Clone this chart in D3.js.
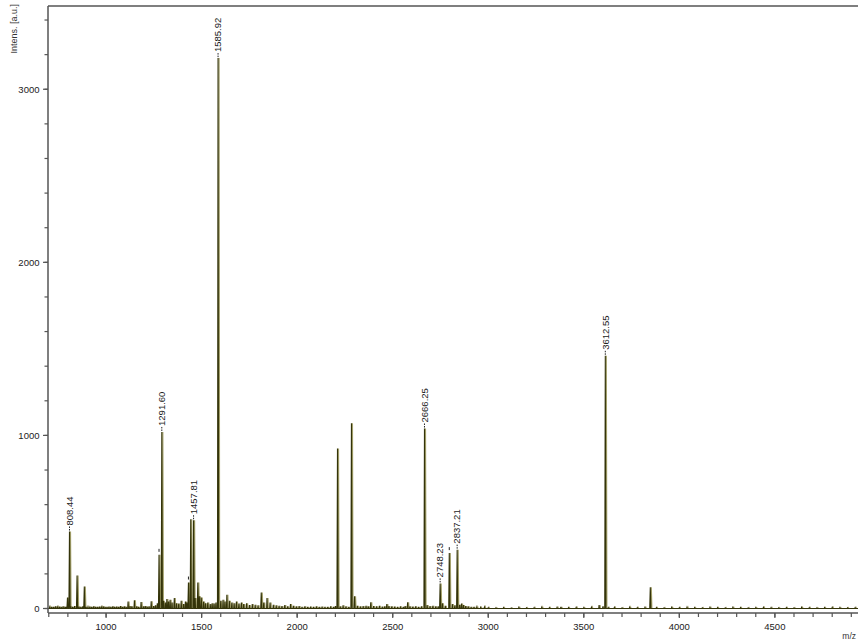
<!DOCTYPE html>
<html><head><meta charset="utf-8">
<script src="https://cdn.jsdelivr.net/npm/d3@7"></script>
<style>
html,body{margin:0;padding:0;background:#fff;}
svg{display:block;font-family:Arial,"Liberation Sans",sans-serif;}
</style></head>
<body>
<svg id="chart" width="858" height="641"></svg>
<script>
// ---- data ----
const peakMz  = [798, 808.44, 848, 886, 1277, 1291.60, 1431, 1443, 1457.81, 1480, 1498, 1585.92, 1812, 2211, 2284, 2300, 2666.25, 2748.23, 2796, 2837.21, 3612.55, 3848];
const peakInt = [64, 445, 190, 127, 310, 1020, 150, 515, 510, 150, 64, 3180, 92, 925, 1070, 70, 1040, 145, 320, 340, 1460, 123];

const noiseMz = [
  705,715,725,735,745,755,765,775,785,792,
  815,825,835,858,868,878,
  895,905,915,925,935,945,955,965,975,985,995,
  1005,1015,1025,1035,1045,1055,1065,1075,1085,1095,1105,1115,1125,1135,
  1148,1160,1170,1183,1195,1205,1215,1225,1236,1248,1258,1268,
  1300,1310,1318,1326,1335,1345,1357,1368,1380,1393,1405,1415,1422,
  1466,1488,1510,1520,1532,1545,1555,1565,1575,
  1600,1612,1622,1632,1645,1658,1670,1682,1695,1708,1720,1735,1750,1765,1780,1795,
  1825,1842,1858,1875,1890,1905,1920,1935,1950,1965,1980,1995,
  2010,2025,2040,2055,2070,2085,2100,2115,2130,2145,2160,2175,2190,
  2200,2225,2240,2255,2270,
  2315,2330,2345,2360,2372,2385,2400,2415,2430,2445,2458,2469,2480,2495,2510,2525,2540,2555,2565,2578,2590,2605,2620,2635,2650,
  2680,2695,2710,2725,2738,2760,2775,
  2812,2825,2850,2860,2870,2882,2895,2910,2925,2940,2960,2980,3000,
  3040,3080,3120,3160,3200,3240,3280,3320,3360,
  3380,3420,3460,3500,3540,3580,3600,3628,3660,3700,3740,3780,3820,
  3880,3920,3960,4000,4040,4080,4120,4160,4200,4240,4280,4320,4360,4400,4440,4480,4520,4560,4600,4640,4680,4720,4760,4800,4840,4880,4920];
const noiseInt = [
  8,10,9,12,8,11,9,13,10,9,
  12,10,14,11,9,12,
  10,8,11,9,12,10,9,11,8,12,10,
  9,11,10,12,9,11,10,14,10,12,9,40,14,12,
  47,12,10,38,12,14,11,13,42,14,18,30,
  45,35,55,40,50,35,60,30,28,45,25,40,35,
  60,70,40,30,35,25,30,28,35,
  45,50,40,80,45,35,30,40,28,35,25,30,20,25,22,18,
  35,60,35,22,18,15,14,20,12,25,15,12,
  14,10,12,9,11,10,12,9,11,10,9,12,10,
  14,12,18,12,10,
  16,12,14,15,12,36,14,12,15,11,13,25,14,12,11,10,12,9,14,36,12,11,13,10,12,
  20,14,15,12,13,30,15,
  25,18,22,28,20,14,12,10,9,8,6,8,5,
  4,5,3,6,4,5,7,5,6,
  10,5,6,5,7,20,12,5,6,4,7,5,6,
  5,4,6,5,7,5,4,6,5,4,6,5,4,5,6,5,4,5,4,6,5,4,5,6,5,4,5];

const labelMz   = [808.44, 1291.60, 1457.81, 1585.92, 2666.25, 2748.23, 2837.21, 3612.55];
const labelText = ["808.44", "1291.60", "1457.81", "1585.92", "2666.25", "2748.23", "2837.21", "3612.55"];
const markMz    = [1277, 1431, 2796];   // dash-only markers

const xMajorTicks = [1000, 1500, 2000, 2500, 3000, 3500, 4000, 4500];
const yMajorTicks = [0, 1000, 2000, 3000];

// ---- layout ----
const svg = d3.select("#chart");
const pLeft = 48, pRight = 858, pTop = 6, pBottom = 613;
const x = d3.scaleLinear().domain([696, 4935]).range([pLeft, pRight]);
const y = d3.scaleLinear().domain([-26, 3481]).range([pBottom, pTop]);

const intensityAt = m => { const i = peakMz.indexOf(m); return peakInt[i]; };

const events = peakMz.map((m,i)=>({m, h:peakInt[i], w:3}))
  .concat(noiseMz.map((m,i)=>({m, h:(noiseInt[i] ?? 0), w:2})))
  .sort((a,b)=>a.m-b.m);
const pts = [[696,0]];
events.forEach(e=>{ pts.push([e.m-e.w,0],[e.m,e.h],[e.m+e.w,0]); });
pts.push([4935,0]);

const line = d3.line().defined(d=>isFinite(d[1])).x(d=>x(d[0])).y(d=>y(d[1]));

svg.append("defs").append("clipPath").attr("id","clip")
  .append("rect").attr("x",pLeft).attr("y",pTop).attr("width",pRight-pLeft).attr("height",pBottom-pTop);

const g = svg.append("g").attr("clip-path","url(#clip)");
g.append("path").attr("d",line(pts)).attr("fill","none")
  .attr("stroke","#a3a06a").attr("stroke-width",1.2).attr("transform","translate(1,0)");
g.append("path").attr("d",line(pts)).attr("fill","none")
  .attr("stroke","#34340a").attr("stroke-width",1.1);

svg.append("line").attr("x1",pLeft).attr("x2",pRight).attr("y1",pTop).attr("y2",pTop)
  .attr("stroke","#000").attr("stroke-width",1.2);

const yAxis = svg.append("g").attr("stroke","#555");
yAxis.append("line").attr("x1",pLeft).attr("x2",pLeft).attr("y1",pTop).attr("y2",pBottom)
  .attr("stroke-width",1.5);
const yMinor = d3.range(0, 3500, 200);
yAxis.selectAll("line.minor").data(yMinor).enter().append("line")
  .attr("x1",pLeft-3.5).attr("x2",pLeft).attr("y1",d=>y(d)).attr("y2",d=>y(d)).attr("stroke-width",1.2);
yAxis.selectAll("line.major").data(yMajorTicks).enter().append("line")
  .attr("x1",pLeft-5).attr("x2",pLeft).attr("y1",d=>y(d)).attr("y2",d=>y(d)).attr("stroke-width",1.2);
svg.selectAll("text.ylab").data(yMajorTicks).enter().append("text")
  .attr("x",39.5).attr("y",d=>y(d)).attr("dy","0.35em").attr("text-anchor","end")
  .attr("font-size","9.5px").attr("fill","#222").text(d=>d);

const xAxis = svg.append("g").attr("stroke","#555");
xAxis.append("line").attr("x1",pLeft).attr("x2",pRight).attr("y1",pBottom).attr("y2",pBottom).attr("stroke-width",1.5);
const xMinor = d3.range(700, 4950, 100);
xAxis.selectAll("line.minor").data(xMinor).enter().append("line")
  .attr("x1",d=>x(d)).attr("x2",d=>x(d)).attr("y1",pBottom).attr("y2",pBottom+4).attr("stroke-width",1.2);
xAxis.selectAll("line.major").data(xMajorTicks).enter().append("line")
  .attr("x1",d=>x(d)).attr("x2",d=>x(d)).attr("y1",pBottom).attr("y2",pBottom+5).attr("stroke-width",1.2);
svg.selectAll("text.xlab").data(xMajorTicks).enter().append("text")
  .attr("x",d=>x(d)).attr("y",630).attr("text-anchor","middle")
  .attr("font-size","9.5px").attr("fill","#222").text(d=>d);

svg.append("text").attr("transform","translate(17,4) rotate(-90)").attr("text-anchor","end")
  .attr("font-size","9px").attr("fill","#333").text("Intens. [a.u.]");
svg.append("text").attr("x",856).attr("y",639).attr("text-anchor","end")
  .attr("font-size","8.5px").attr("fill","#333").text("m/z");

labelMz.forEach((m,i)=>{
  const px = x(m), py = y(intensityAt(m));
  svg.append("line").attr("x1",px).attr("x2",px).attr("y1",py-1).attr("y2",py-5)
    .attr("stroke","#222").attr("stroke-width",1).attr("stroke-dasharray","1.5,1");
  svg.append("text").attr("transform",`translate(${px},${py-6}) rotate(-90)`)
    .attr("dy","0.35em").attr("font-size","9.5px").attr("fill","#222").text(labelText[i]);
});
markMz.forEach(m=>{
  const px = x(m), py = y(intensityAt(m));
  svg.append("line").attr("x1",px).attr("x2",px).attr("y1",py-3).attr("y2",py-6)
    .attr("stroke","#222").attr("stroke-width",1);
});
</script>
</body></html>
